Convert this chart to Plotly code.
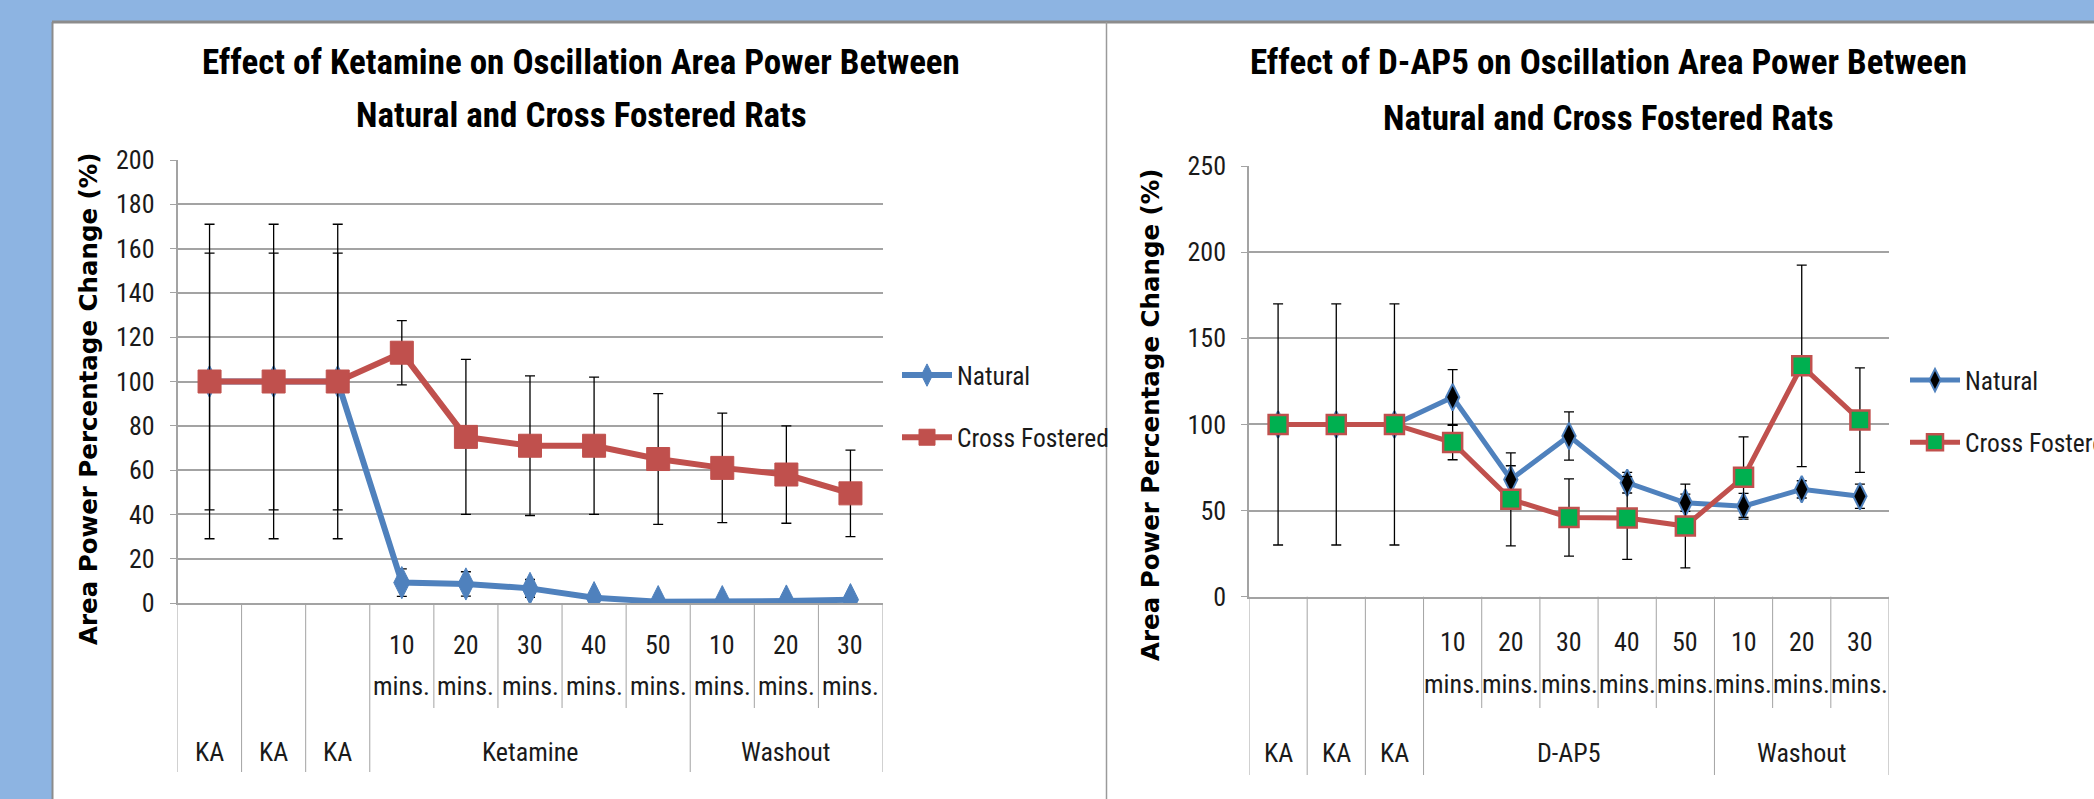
import plotly.graph_objects as go

W, H = 2094, 799

# ---------------- data ----------------
# Ketamine chart
ket_group_labels = ["KA", "KA", "KA", "Ketamine", "Washout"]
ket_group_sizes = [1, 1, 1, 5, 3]
ket_sub = ["", "", "", "10", "20", "30", "40", "50", "10", "20", "30"]
ket_natural = [100, 100, 100, 9.2, 8.6, 6.6, 2.4, 0.6, 0.6, 0.9, 1.5]
ket_natural_err = [58, 58, 58, 6.2, 5.5, 4, 1, 0.5, 0.5, 0.5, 0.5]
ket_cross = [100, 100, 100, 113, 75, 71, 71, 65, 61, 58, 49.5]
ket_cross_err = [71, 71, 71, 14.5, 35, 31.5, 31, 29.5, 24.7, 22, 19.5]

# D-AP5 chart
dap_group_labels = ["KA", "KA", "KA", "D-AP5", "Washout"]
dap_group_sizes = [1, 1, 1, 5, 3]
dap_sub = ["", "", "", "10", "20", "30", "40", "50", "10", "20", "30"]
dap_natural = [100, 100, 100, 115.8, 68, 93.3, 66.2, 54.5, 52.5, 62.3, 58.3]
dap_natural_err = [0, 0, 0, 16, 8, 14, 6, 5, 7.5, 5, 7]
dap_cross = [100, 100, 100, 89.5, 56.5, 46, 45.7, 41, 69.4, 134, 102.5]
dap_cross_err = [70, 70, 70, 10, 27, 22.4, 24, 24.3, 23.4, 58.5, 30.3]

unit_label = "mins."
titles_left = ["Effect of Ketamine on Oscillation Area Power Between", "Natural and Cross Fostered Rats"]
titles_right = ["Effect of D-AP5 on Oscillation Area Power Between", "Natural and Cross Fostered Rats"]
y_title = "Area Power Percentage Change (%)"
series_names = ["Natural", "Cross Fostered"]

# ---------------- style ----------------
NARROW = "Liberation Sans Narrow, Arial Narrow, Roboto Condensed, sans-serif"
BLUE = "#4F81BD"
RED = "#C0504D"
GREEN = "#00B050"
GRID = "#A3A3A3"
BG = "#8DB4E2"
TXT = "#1a1a1a"


def px(y):
    return 1 - y / H


def pxx(x):
    return x / W


fig = go.Figure()

err_style = dict(type="data", color="black", thickness=1.3, width=5)

xs_k = list(range(len(ket_sub)))
xs_d = list(range(len(dap_sub)))

fig.add_trace(go.Scatter(
    x=xs_k, y=ket_natural, name=series_names[0], mode="lines+markers",
    line=dict(color=BLUE, width=6),
    marker=dict(symbol="diamond-tall", size=23, color=BLUE, line=dict(color=BLUE, width=1)),
    error_y=dict(array=ket_natural_err, **err_style),
    xaxis="x", yaxis="y", legend="legend", legendgroup="a"))
fig.add_trace(go.Scatter(
    x=xs_k, y=ket_cross, name=series_names[1], mode="lines+markers",
    line=dict(color=RED, width=6),
    marker=dict(symbol="square", size=23, color=RED, line=dict(color=RED, width=1)),
    error_y=dict(array=ket_cross_err, **err_style),
    xaxis="x", yaxis="y", legend="legend", legendgroup="b"))

fig.add_trace(go.Scatter(
    x=xs_d, y=dap_natural, name=series_names[0], mode="lines+markers",
    line=dict(color=BLUE, width=5),
    marker=dict(symbol="diamond-tall", size=19, color="black", line=dict(color=BLUE, width=2)),
    error_y=dict(array=dap_natural_err, **err_style),
    xaxis="x2", yaxis="y2", legend="legend2", legendgroup="c"))
fig.add_trace(go.Scatter(
    x=xs_d, y=dap_cross, name=series_names[1], mode="lines+markers",
    line=dict(color=RED, width=5),
    marker=dict(symbol="square", size=19, color=GREEN, line=dict(color=RED, width=2.5)),
    error_y=dict(array=dap_cross_err, **err_style),
    xaxis="x2", yaxis="y2", legend="legend2", legendgroup="d"))

# ---------------- axes ----------------
tickfont = dict(family=NARROW, size=26, color=TXT)
common_y = dict(showgrid=True, gridcolor=GRID, gridwidth=2, showline=True, linecolor=GRID,
                linewidth=1.5, ticks="outside", ticklen=6, tickcolor=GRID, tickfont=tickfont,
                zeroline=False, ticklabelstandoff=10, fixedrange=True)
common_x = dict(showgrid=False, showticklabels=False, zeroline=False, showline=True,
                linecolor=GRID, linewidth=2, ticks="", range=[-0.5, 10.5])

fig.update_layout(
    xaxis=dict(domain=[pxx(177.5), pxx(882.5)], anchor="y", **common_x),
    yaxis=dict(domain=[px(603), px(160)], anchor="x", range=[0, 200], dtick=20, **common_y),
    xaxis2=dict(domain=[pxx(1249), pxx(1889)], anchor="y2", **common_x),
    yaxis2=dict(domain=[px(596.7), px(166)], anchor="x2", range=[0, 250], dtick=50, **common_y),
)

shapes = []
# background panels
shapes.append(dict(type="rect", xref="paper", yref="paper", x0=pxx(52), x1=1.01, y0=-0.01, y1=px(21),
                   fillcolor="white", line=dict(width=0), layer="below"))
shapes.append(dict(type="line", xref="paper", yref="paper", x0=pxx(52), x1=1.01, y0=px(22), y1=px(22),
                   line=dict(color="#8C8C8C", width=3), layer="below"))
shapes.append(dict(type="line", xref="paper", yref="paper", x0=pxx(52.5), x1=pxx(52.5), y0=-0.01, y1=px(22),
                   line=dict(color="#8C8C8C", width=2), layer="below"))
shapes.append(dict(type="line", xref="paper", yref="paper", x0=pxx(1106.5), x1=pxx(1106.5), y0=-0.01, y1=px(22),
                   line=dict(color="#9A9A9A", width=1.5), layer="below"))

annotations = []


def category_axis(xref, sizes, labels, sub, y_axis_px, y_num_px, y_unit_px, y_short_px, y_long_px, y_group_px):
    n = len(sub)
    group_bounds = [-0.5]
    acc = -0.5
    for s in sizes:
        acc += s
        group_bounds.append(acc)
    for b in [i - 0.5 for i in range(n + 1)]:
        y_end = y_long_px if b in group_bounds else y_short_px
        shapes.append(dict(type="line", xref=xref, yref="paper", x0=b, x1=b,
                           y0=px(y_axis_px), y1=px(y_end), line=dict(color=GRID, width=1)))
    for i, t in enumerate(sub):
        if t:
            annotations.append(dict(xref=xref, yref="paper", x=i, y=px(y_num_px), text=t,
                                    showarrow=False, font=tickfont, xanchor="center", yanchor="middle"))
            annotations.append(dict(xref=xref, yref="paper", x=i, y=px(y_unit_px), text=unit_label,
                                    showarrow=False, font=tickfont, xanchor="center", yanchor="middle"))
    start = -0.5
    for lab, s in zip(labels, sizes):
        c = start + s / 2
        annotations.append(dict(xref=xref, yref="paper", x=c, y=px(y_group_px), text=lab,
                                showarrow=False, font=tickfont, xanchor="center", yanchor="middle"))
        start += s


category_axis("x", ket_group_sizes, ket_group_labels, ket_sub, 603, 645, 686, 708, 772, 752)
category_axis("x2", dap_group_sizes, dap_group_labels, dap_sub, 596.7, 642, 684, 708, 775, 753)

title_font = dict(family=NARROW, size=35, color="black", weight="bold")
for txt, yy in zip(titles_left, [62, 115]):
    annotations.append(dict(xref="paper", yref="paper", x=pxx(581), y=px(yy), text=txt, showarrow=False,
                            font=title_font, xanchor="center", yanchor="middle"))
for txt, yy in zip(titles_right, [62, 118]):
    annotations.append(dict(xref="paper", yref="paper", x=pxx(1608), y=px(yy), text=txt, showarrow=False,
                            font=title_font, xanchor="center", yanchor="middle"))

ytf = dict(family="DejaVu Sans, Verdana, sans-serif", size=24.5, color="black", weight="bold")
annotations.append(dict(xref="paper", yref="paper", x=pxx(88), y=px(399), text=y_title, textangle=-90,
                        showarrow=False, font=ytf, xanchor="center", yanchor="middle"))
annotations.append(dict(xref="paper", yref="paper", x=pxx(1151), y=px(415), text=y_title, textangle=-90,
                        showarrow=False, font=ytf, xanchor="center", yanchor="middle"))

legend_font = dict(family=NARROW, size=25.5, color=TXT)
fig.update_layout(
    width=W, height=H,
    margin=dict(l=0, r=0, t=0, b=0, autoexpand=False),
    paper_bgcolor=BG, plot_bgcolor="rgba(0,0,0,0)",
    shapes=shapes, annotations=annotations,
    showlegend=True,
    legend=dict(xref="container", yref="container", x=pxx(897), y=px(352), xanchor="left", yanchor="top",
                font=legend_font, bgcolor="rgba(0,0,0,0)", tracegroupgap=26, itemwidth=50),
    legend2=dict(xref="container", yref="container", x=pxx(1905), y=px(357), xanchor="left", yanchor="top",
                 font=legend_font, bgcolor="rgba(0,0,0,0)", tracegroupgap=26, itemwidth=50),
)

fig.write_html("out.html")
